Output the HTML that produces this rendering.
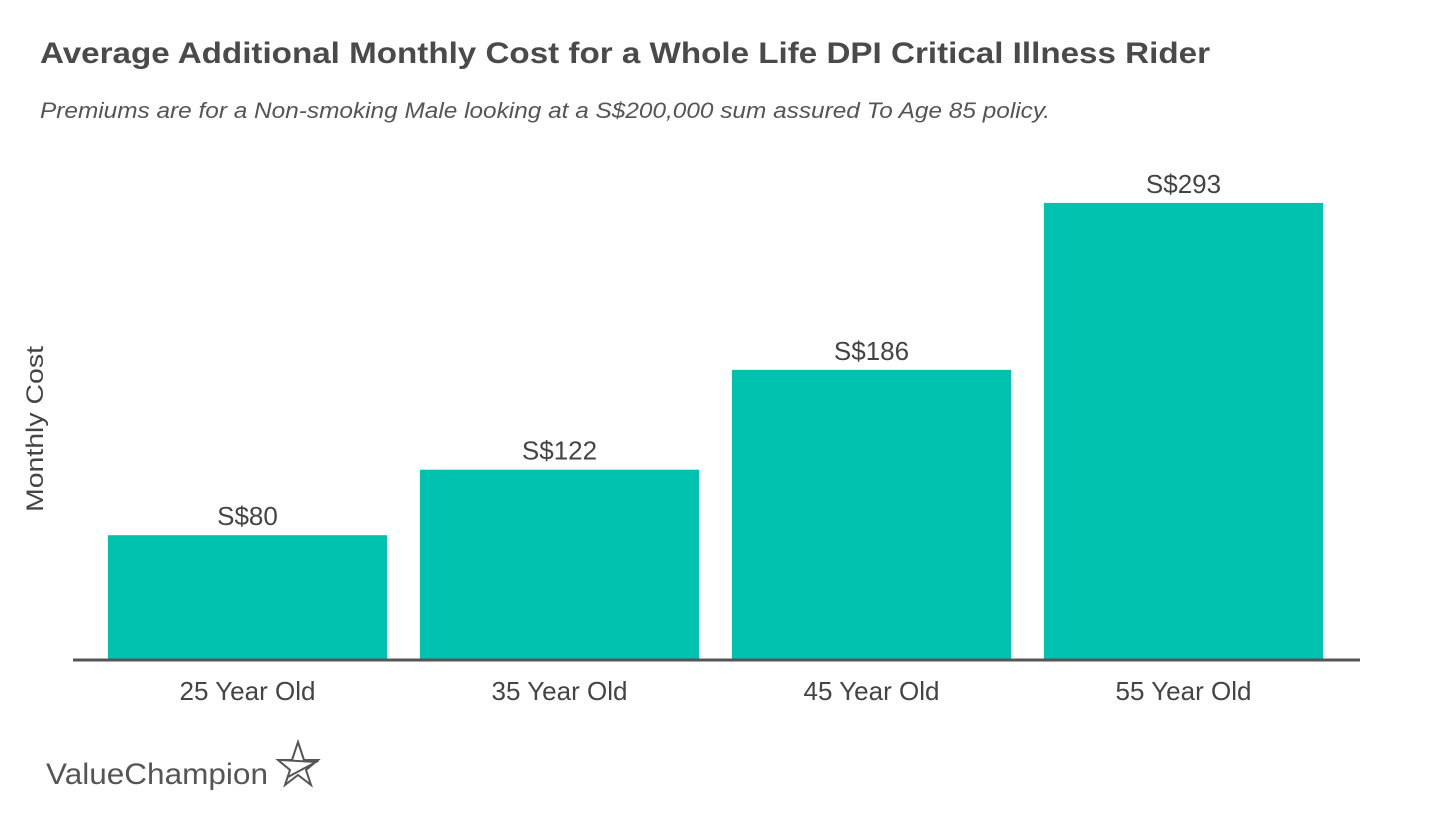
<!DOCTYPE html>
<html><head><meta charset="utf-8"><style>
html,body{margin:0;padding:0;background:#fff;width:1440px;height:817px;overflow:hidden;font-family:"Liberation Sans",sans-serif}
</style></head><body>
<svg width="1440" height="817" xmlns="http://www.w3.org/2000/svg">
<text x="40" y="63" font-size="30" font-weight="bold" fill="#4a4a4a" textLength="1170" lengthAdjust="spacingAndGlyphs">Average Additional Monthly Cost for a Whole Life DPI Critical Illness Rider</text>
<text x="40" y="118" font-size="22" font-style="italic" fill="#555" textLength="1010" lengthAdjust="spacingAndGlyphs">Premiums are for a Non-smoking Male looking at a S$200,000 sum assured To Age 85 policy.</text>
<text transform="translate(43,429) rotate(-90)" text-anchor="middle" font-size="24" fill="#444" textLength="166" lengthAdjust="spacingAndGlyphs">Monthly Cost</text>
<g id="bars"></g>
<line x1="73" x2="1360" y1="660" y2="660" stroke="#555" stroke-width="3"/>
<text x="46" y="784" font-size="30" fill="#555" textLength="222" lengthAdjust="spacingAndGlyphs">ValueChampion</text>
<path d="M298 742 L304 760 L318 760 L306 770 L311 785 L298 775 L285 785 L290 770 L278 760 L292 760 Z M280 760 L316 762 L288 777" fill="none" stroke="#555" stroke-width="2"/>
</svg>
<script>
const categories=["25 Year Old","35 Year Old","45 Year Old","55 Year Old"];
const values=[80,122,186,293];
const labels=["S$80","S$122","S$186","S$293"];
const baseY=660, pxPer=1.56, x0=108, step=312, bw=279;
const y=v=>baseY-v*pxPer;
const g=document.getElementById('bars');
const NS="http://www.w3.org/2000/svg";
values.forEach((v,i)=>{
  const x=x0+i*step;
  const r=document.createElementNS(NS,'rect');
  r.setAttribute('x',x);r.setAttribute('y',y(v));r.setAttribute('width',bw);r.setAttribute('height',baseY-y(v));r.setAttribute('fill','#00c2ae');
  
  
  g.appendChild(r);
  const t=document.createElementNS(NS,'text');
  t.setAttribute('x',x+bw/2);t.setAttribute('y',y(v)-10);t.setAttribute('text-anchor','middle');t.setAttribute('font-size','26');t.setAttribute('fill','#444');
  t.textContent=labels[i];
  
  
  g.appendChild(t);
  const c=document.createElementNS(NS,'text');
  c.setAttribute('x',x+bw/2);c.setAttribute('y',700);c.setAttribute('text-anchor','middle');c.setAttribute('font-size','26');c.setAttribute('fill','#444');
  c.textContent=categories[i];
  
  
  g.appendChild(c);
});
</script>
</body></html>
